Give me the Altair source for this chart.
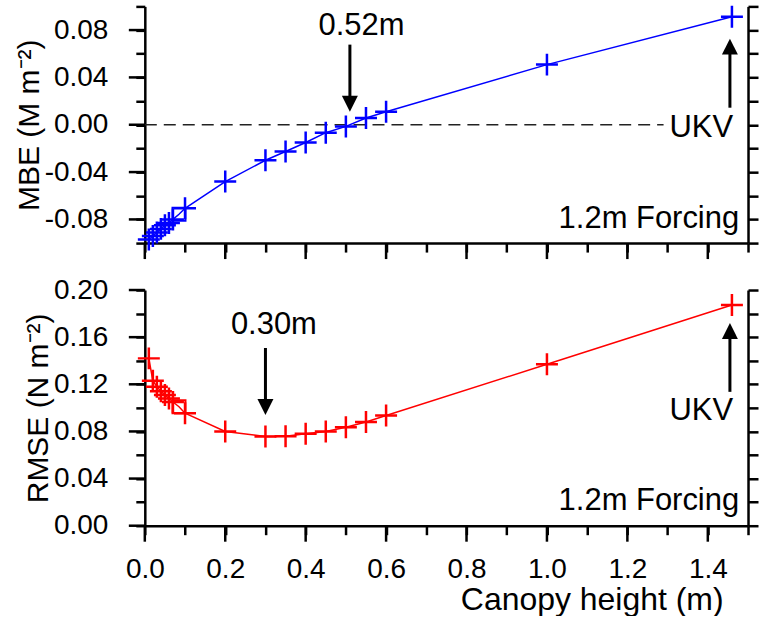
import altair as alt
import pandas as pd

# ---------------- data ----------------
canopy_height = [0.01, 0.02, 0.03, 0.04, 0.05, 0.06, 0.07, 0.085, 0.10, 0.20,
                 0.30, 0.35, 0.40, 0.45, 0.50, 0.55, 0.60, 1.00, 1.46]
mbe = [-0.097, -0.094, -0.091, -0.088, -0.085, -0.083, -0.080, -0.0756, -0.0706, -0.048,
       -0.030, -0.0226, -0.015, -0.0067, -0.0014, 0.0057, 0.011, 0.0508, 0.0912]
rmse = [0.142, 0.123, 0.118, 0.114, 0.111, 0.108, 0.105, 0.101, 0.0955, 0.080,
        0.0757, 0.0760, 0.078, 0.080, 0.0836, 0.088, 0.0935, 0.137, 0.1873]
marker = ["plus"] * 7 + ["square"] + ["plus"] * 11

# annotations (data coordinates)
arrow_x_top = [0.51, 1.455]
arrow_tail_top = [0.0677, 0.0144]
arrow_head_top = [0.0178, 0.066]
arrow_dir_top = ["down", "up"]

arrow_x_bot = [0.30, 1.455]
arrow_tail_bot = [0.1508, 0.1136]
arrow_head_bot = [0.1008, 0.1653]
arrow_dir_bot = ["down", "up"]

label_top_center = ["0.52m"]
label_top_center_x = [0.539]
label_top_center_y = [0.0762]
label_top_right = ["UKV", "1.2m Forcing"]
label_top_right_x = [1.463, 1.478]
label_top_right_y = [-0.0102, -0.0872]

label_bot_center = ["0.30m"]
label_bot_center_x = [0.321]
label_bot_center_y = [0.1627]
label_bot_right = ["UKV", "1.2m Forcing"]
label_bot_right_x = [1.463, 1.478]
label_bot_right_y = [0.0898, 0.0136]

zero_line_x = [0.0, 1.29]

x_ticks = [0.0, 0.1, 0.2, 0.3, 0.4, 0.5, 0.6, 0.7, 0.8, 0.9, 1.0, 1.1, 1.2, 1.3, 1.4, 1.5]
x_major = [0.0, 0.2, 0.4, 0.6, 0.8, 1.0, 1.2, 1.4]
mbe_ticks = [-0.10, -0.08, -0.06, -0.04, -0.02, 0.0, 0.02, 0.04, 0.06, 0.08, 0.10]
mbe_major = [-0.08, -0.04, 0.0, 0.04, 0.08]
rmse_ticks = [0.0, 0.02, 0.04, 0.06, 0.08, 0.10, 0.12, 0.14, 0.16, 0.18, 0.20]
rmse_major = [0.0, 0.04, 0.08, 0.12, 0.16, 0.20]

# ---------------- style ----------------
FONT = "Liberation Sans"
PLUS = "M-1,0H1M0,-1V1"
HEAD_DOWN = "M-1,-1L1,-1L0,1Z"
HEAD_UP = "M-1,1L1,1L0,-1Z"
MAJOR_TICK = 16
MINOR_TICK = 9
ANNOT_SIZE = 31
W = 604


def major(step):
    return f"abs(datum.value/{step} - round(datum.value/{step})) < 0.001"


x_scale = alt.Scale(domain=[0, 1.5], nice=False, zero=False)

x_axis_top = alt.Axis(values=x_ticks, labels=False, title=None)
x_axis_bot = alt.Axis(values=x_ticks,
                      labelExpr=f"{major(0.2)} ? format(datum.value, '.1f') : ''",
                      labelPadding=21, title="Canopy height (m)", titleX=579, titleY=59,
                      titleAlign="right", titleBaseline="top", titleFontSize=32)


def y_left_axis(title, ticks):
    return alt.Axis(values=ticks, orient="left",
                    labelExpr=f"{major(0.04)} ? (datum.value < 0 ? '-' : '') + format(abs(datum.value), '.2f') : ''",
                    labelPadding=28, title=title, titlePadding=0)


def y_right_axis(ticks):
    return alt.Axis(values=ticks, tickSize=10, orient="right", labels=False, title=None)


def panel(yvals, ydomain, yticks, ymajor, ytitle, color, xaxis,
          arr_x, arr_tail, arr_head, arr_dir,
          lc, lc_x, lc_y, lr, lr_x, lr_y, zero_line, height):
    yscale = alt.Scale(domain=ydomain, nice=False, zero=False)
    df = pd.DataFrame({"h": canopy_height, "v": yvals, "marker": marker})
    X = alt.X("h:Q", scale=x_scale, axis=xaxis)

    line = alt.Chart(df).mark_line(color=color, strokeWidth=1.5).encode(
        x=X, y=alt.Y("v:Q", scale=yscale, axis=y_left_axis(ytitle, yticks)))
    plus = alt.Chart(df).transform_filter(alt.datum.marker == "plus").mark_point(
        shape=PLUS, size=484, filled=False, strokeWidth=2.5, color=color, opacity=1).encode(
        x=X, y=alt.Y("v:Q", scale=yscale, axis=y_right_axis(yticks)))
    square = alt.Chart(df).transform_filter(alt.datum.marker == "square").mark_point(
        shape="square", size=169, filled=False, strokeWidth=2, color=color, opacity=1).encode(
        x=X, y=alt.Y("v:Q", scale=yscale, axis=None))

    # longer (major) ticks drawn through the scales
    ymaj = alt.Chart(pd.DataFrame({"t": ymajor})).mark_rule(color="black", strokeWidth=2.5).encode(
        y=alt.Y("t:Q", scale=yscale, axis=None),
        x=alt.value(-MAJOR_TICK), x2=alt.value(0))
    xmaj = alt.Chart(pd.DataFrame({"t": x_major})).mark_rule(color="black", strokeWidth=2.5).encode(
        x=alt.X("t:Q", scale=x_scale, axis=xaxis),
        y=alt.value(height), y2=alt.value(height + MAJOR_TICK))

    layers = []
    if zero_line:
        zdf = pd.DataFrame({"x0": [zero_line_x[0]], "x1": [zero_line_x[1]], "y": [0.0]})
        layers.append(alt.Chart(zdf).mark_rule(strokeDash=[12, 7], strokeWidth=1.5, color="#222").encode(
            x=alt.X("x0:Q", scale=x_scale, axis=xaxis), x2="x1:Q",
            y=alt.Y("y:Q", scale=yscale, axis=None)))

    adf = pd.DataFrame({"x": arr_x, "tail": arr_tail, "head": arr_head, "dir": arr_dir})
    shaft = alt.Chart(adf).mark_rule(strokeWidth=3, color="black").encode(
        x=alt.X("x:Q", scale=x_scale, axis=xaxis),
        y=alt.Y("tail:Q", scale=yscale, axis=None), y2="head:Q")
    head = alt.Chart(adf).mark_point(filled=True, size=256, color="black", opacity=1).encode(
        x=alt.X("x:Q", scale=x_scale, axis=xaxis),
        y=alt.Y("head:Q", scale=yscale, axis=None),
        shape=alt.Shape("dir:N", scale=alt.Scale(domain=["down", "up"], range=[HEAD_DOWN, HEAD_UP]),
                        legend=None))

    cdf = pd.DataFrame({"x": lc_x, "y": lc_y, "t": lc})
    rdf = pd.DataFrame({"x": lr_x, "y": lr_y, "t": lr})
    tcenter = alt.Chart(cdf).mark_text(font=FONT, fontSize=ANNOT_SIZE, align="center",
                                       baseline="alphabetic", color="black").encode(
        x=alt.X("x:Q", scale=x_scale, axis=xaxis),
        y=alt.Y("y:Q", scale=yscale, axis=None), text="t:N")
    tright = alt.Chart(rdf).mark_text(font=FONT, fontSize=ANNOT_SIZE, align="right",
                                      baseline="alphabetic", color="black").encode(
        x=alt.X("x:Q", scale=x_scale, axis=xaxis),
        y=alt.Y("y:Q", scale=yscale, axis=None), text="t:N")

    layers += [line, plus, square, ymaj, xmaj, shaft, head, tcenter, tright]
    return alt.layer(*layers).resolve_axis(y="independent").properties(width=W, height=height)


top = panel(mbe, [-0.10, 0.10], mbe_ticks, mbe_major, "MBE (M m⁻²)", "#0000ff", x_axis_top,
            arrow_x_top, arrow_tail_top, arrow_head_top, arrow_dir_top,
            label_top_center, label_top_center_x, label_top_center_y,
            label_top_right, label_top_right_x, label_top_right_y, True, 237)
bottom = panel(rmse, [0.0, 0.20], rmse_ticks, rmse_major, "RMSE (N m⁻²)", "#ff0000", x_axis_bot,
               arrow_x_bot, arrow_tail_bot, arrow_head_bot, arrow_dir_bot,
               label_bot_center, label_bot_center_x, label_bot_center_y,
               label_bot_right, label_bot_right_x, label_bot_right_y, False, 236)

chart = alt.vconcat(top, bottom, spacing=47, bounds="flush").properties(
    padding={"left": 14, "top": 0, "right": 0, "bottom": 0},
    background="white",
).configure_view(strokeWidth=0).configure_axis(
    grid=False, domainColor="black", domainWidth=2.5, tickColor="black", tickWidth=2.5,
    tickSize=MINOR_TICK,
    labelFont=FONT, labelFontSize=28, labelColor="black", labelFlush=False,
    titleFont=FONT, titleFontSize=30, titleFontWeight="normal", titleColor="black",
)

chart.save("out.html", embed_options={"renderer": "svg", "actions": False})
